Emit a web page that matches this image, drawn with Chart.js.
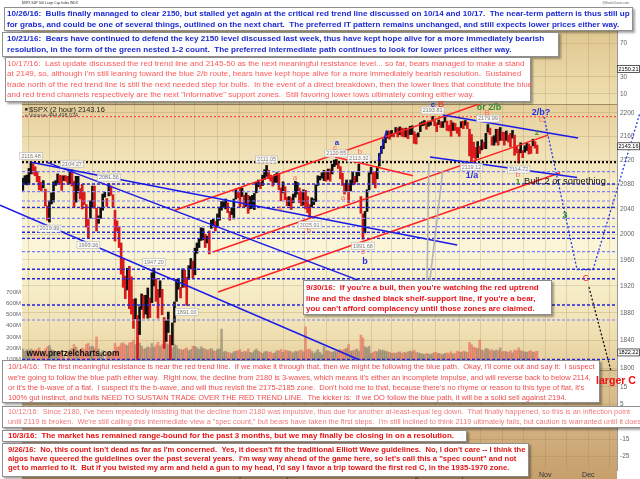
<!DOCTYPE html>
<html>
<head>
<meta charset="utf-8">
<title>SPX 2 hour</title>
<script src="https://cdn.jsdelivr.net/npm/chart.js@4.4.1/dist/chart.umd.min.js"></script>
<style>
  html, body { margin: 0; padding: 0; background: #fff; }
  #chart { display: block; }
</style>
</head>
<body>
<canvas id="chart" width="640" height="479" style="width:640px;height:479px"></canvas>
<script>
// x values are trading days counted from 3 Nov 2015, first bar is 28 Oct 2015
var firstDay = -4;

var highs = [2090,2094,2095,2106,
  2116.5,2114,2109,2101,2093,2083,2086,2072,2045,2053,
  2066,2084,2086,2097,2095,2094,2094,2094,2093,2103,
  2104,2085,2093,2093,2073,2080,2067,2047,2023,2053,
  2077,2077,2041,2029,2042,2064,2067,2057,2081,2077,
  2063,2038,2021,2012,1986,1961,1935,1947,1950,1934,
  1900,1901,1876,1889,1908,1906,1906,1917,1902,1940,
  1947,1931,1915,1928,1915,1873,1868,1881,1847,1865,
  1896,1930,1930,1918,1946,1944,1933,1951,1962,1958,
  1978,1986,1993,2010,2009,2000,1997,2005,2022,2025,
  2020,2032,2043,2052,2053,2056,2050,2036,2042,2056,
  2072,2068,2075,2074,2062,2066,2062,2060,2062,2065,
  2083,2087,2083,2095,2104,2111,2103,2095,2092,2096,
  2099,2097,2074,2084,2076,2059,2060,2058,2064,2085,
  2083,2074,2068,2071,2070,2060,2047,2058,2056,2079,
  2094,2093,2099,2103,2100,2105,2105,2113,2120,2121,
  2118,2109,2098,2081,2087,2079,2087,2101,2093,2100,
  2113,2060,2032,2036,2071,2099,2108,2101,2101,2109,
  2131,2143,2155,2159,2169,2169,2170,2165,2175,2174,
  2176,2174,2173,2174,2171,2177,2178,2168,2164,2166,
  2183,2185,2187,2183,2186,2185,2194,2187,2183,2188,
  2185,2185,2193,2186,2179,2187,2183,2182,2175,2175,
  2185,2186,2187,2184,2172,2163,2150,2141,2151,2143,
  2154,2150,2165,2180,2174,2159,2161,2172,2172,2175,
  2167,2167,2169,2162,2165,2170,2162,2143,2138,2149,
  2136,2144,2148,2147,2143,2155,2151,2145];

var lows = [2070,2080,2079,2080,
  2097,2097,2094,2084,2071,2069,2074,2045,2022,2019,
  2048,2051,2078,2082,2080,2070,2086,2085,2080,2081,
  2077,2042,2051,2066,2056,2040,2047,2011,1993,2025,
  2042,2041,2005,2017,2025,2038,2059,2044,2061,2062,
  2043,1989,2005,1979,1938,1918,1901,1914,1886,1878,
  1857,1871,1812,1848,1885,1872,1878,1872,1873,1895,
  1920,1897,1872,1903,1877,1828,1838,1851,1810,1833,
  1866,1897,1915,1902,1918,1918,1891,1930,1946,1932,
  1937,1970,1979,1990,1991,1979,1986,1969,2009,2011,
  2005,2011,2022,2038,2042,2040,2034,2022,2031,2024,
  2056,2058,2043,2060,2042,2044,2033,2040,2041,2039,
  2066,2076,2073,2078,2088,2093,2089,2085,2077,2083,
  2083,2071,2053,2066,2055,2045,2045,2039,2050,2059,
  2064,2050,2045,2046,2040,2034,2025,2043,2047,2052,
  2078,2087,2090,2086,2085,2088,2085,2097,2109,2112,
  2106,2089,2078,2064,2069,2050,2069,2079,2080,2084,
  2094,2033,1992,2002,2036,2071,2097,2080,2074,2089,
  2110,2131,2139,2149,2157,2155,2160,2159,2165,2159,
  2163,2160,2159,2159,2156,2163,2163,2148,2147,2159,
  2168,2178,2179,2172,2177,2179,2186,2178,2168,2180,
  2175,2175,2184,2170,2169,2160,2170,2170,2165,2160,
  2175,2173,2179,2173,2127,2119,2124,2121,2124,2131,
  2137,2139,2139,2167,2163,2145,2145,2150,2145,2153,
  2153,2145,2153,2150,2142,2157,2128,2132,2115,2132,
  2124,2133,2136,2130,2131,2144,2140,2131];

// volume in millions
var volumes = [190,170,185,175,190,180,175,185,200,170,165,190,210,220,185,175,160,170,165,175,120,90,160,
  180,195,230,205,175,180,200,185,230,240,210,215,200,300,190,160,175,90,150,165,160,150,
  240,205,215,240,245,230,220,245,250,270,230,290,245,215,190,195,210,200,240,
  205,225,250,215,230,265,240,230,315,200,230,220,190,185,180,190,200,175,185,215,
  215,200,185,210,195,190,180,185,195,175,170,185,190,370,165,170,160,155,150,165,170,175,
  185,160,170,165,190,160,155,175,190,170,160,150,165,170,160,165,150,155,175,170,185,
  160,180,175,170,165,155,170,165,175,180,165,390,185,190,170,150,165,185,160,140,210,
  170,175,165,160,170,165,180,185,175,190,195,230,170,175,180,190,170,317,290,210,200,215,
  150,160,170,165,185,175,180,170,165,160,150,155,150,160,165,150,160,155,165,170,
  165,180,160,155,150,145,140,150,145,140,150,160,155,150,145,140,150,155,150,165,145,150,170,
  165,160,170,165,160,250,230,205,200,195,270,180,175,195,190,175,185,170,180,175,200,
  165,170,165,160,175,155,180,175,200,175,170,165,160,170,175,160,165,170];

var monthStarts = [-1, 19, 41, 60, 80, 102, 123, 144, 166, 186, 209, 230, 251, 272];
var monthNames = ['Nov', 'Dec', '2016', 'Feb', 'Mar', 'Apr', 'May', 'Jun', 'Jul', 'Aug', 'Sep', 'Oct', 'Nov', 'Dec'];

var priceTicks = [1800,1820,1840,1860,1880,1900,1920,1940,1960,1980,2000,2020,2040,2060,2080,2100,2120,2140,2160,2180,2200];
var volumeTicks = [100,200,300,400,500,600,700];
var lowerTicks = [15,10,5,0,-5,-10,-15,-20,-25,-30];
var upperTicks = [10,30,70];

var shelfLevel = 2116.48;
var highLevel = 2193.81;
var levelsDark = [2080.5, 2042.6, 2002.9, 1993.3, 1945.4, 1931, 1891.5, 1812.3];
var levelsLight = [2100.7, 2067.9, 2052.8, 2025, 2011.7, 1972.5, 1869.3];

var blueLines = [
  [[0, 2116.5], [208, 1983]],
  [[7.5, 2116.5], [166.4, 1921]],
  [[-15.1, 2046], [161.5, 1810]],
  [[194.7, 2125], [266.5, 2091]],
  [[201, 2196.5], [267, 2157]],
  [[169.5, 2118], [173.5, 2170]]
];
var redLines = [
  [[70.3, 2038], [223, 2221]],
  [[148.4, 2125], [186.4, 2094]],
  [[88.8, 1972], [252.3, 2162]],
  [[91.3, 1911], [258.2, 2099]]
];
var calloutLines = [
  [[193.3, 1929], [194.2, 2115]],
  [[194.7, 1929], [201, 2103.5]]
];
var bluePath = [[250.4, 2193], [266.5, 1945], [274.3, 1945], [297.2, 2200]];
var blackPath = [[272.3, 1918.5], [283.6, 1790]];

// [day, price, text, above/below]
var priceLabels = [
  [0, 2116.5, '2116.48', 'a'], [20, 2104, '2104.27', 'a'], [38, 2081, '2081.56', 'a'],
  [9, 2019, '2019.39', 'b'], [28, 1993, '1993.26', 'b'], [60, 1947, '1947.20', 'a'],
  [76, 1891, '1891.00', 'b'], [52, 1812, '1812.29', 'b'], [68, 1810, '1810.10', 'b'],
  [115, 2111, '2111.05', 'a'], [136, 2025, '2025.91', 'b'], [149, 2121, '2120.55', 'a'],
  [160, 2113, '2113.32', 'a'], [162, 1992, '1991.68', 'b'], [196, 2194, '2193.81', 'a'],
  [215, 2119, '2119.12', 'b'], [223, 2180, '2179.99', 'a'], [238, 2115, '2114.72', 'b']
];

// [day, price, text, style]
var waveLabels = [
  [196.2, 2214, 'c', 'blueS'], [200.1, 2214, 'B', 'red'],
  [223.5, 2209, 'or 2/b', 'green'], [222.5, 2200, 'B', 'salmon'],
  [248.9, 2200, '2/b?', 'blue'], [249.4, 2188, 'C', 'salmon'],
  [247, 2166, '2', 'greenS'], [215.2, 2094, '1/a', 'blue'],
  [237.7, 2095, 'b', 'salmon'], [237.7, 2084, '1', 'greenS'],
  [240.6, 2084, 'Bull: 2 or something', 'black'],
  [260.6, 2030, '3', 'green'], [270.9, 1932, 'C', 'red'],
  [285.5, 1782, 'larger C', 'larger'],
  [149.3, 2149, 'a', 'blueS'], [148.4, 2140, 'c', 'salmon'],
  [160.6, 2133, 'b', 'salmon'], [152.3, 2058, 'a', 'salmon'],
  [162, 1972, 'c', 'salmon'], [163, 1957, 'b', 'blue'],
  [128.8, 2090, 'a', 'salmon'], [121.5, 2041, 'A', 'salmon'],
  [135.7, 2006, 'b', 'salmon']
];

var FONT = '"Liberation Sans", Arial, sans-serif';
var xMin = -4.39, xMax = 286.0;

var waveStyles = {
  blue:   { weight: 'bold', size: 9, color: '#2333e2' },
  blueS:  { weight: 'bold', size: 8, color: '#2333e2' },
  red:    { weight: 'normal', size: 9, color: '#ff2424' },
  salmon: { weight: 'normal', size: 8, color: '#ff6b5b' },
  green:  { weight: 'bold', size: 9, color: '#2e8c2e' },
  greenS: { weight: 'bold', size: 8, color: '#2e8c2e' },
  black:  { weight: 'normal', fit: 82, color: '#111', align: 'left' },
  larger: { weight: 'bold', fit: 40, color: '#f01010' }
};

var boxes = [
  { x: 303, y: 280, w: 249, h: 35, tx: 306, fit: 233, color: '#e8141a', weight: 'bold', ly: [287.3, 298.3, 309],
    lines: ["9/30/16:  If you're a bull, then you're watching the red uptrend",
            "line and the dashed black shelf-support line, if you're a bear,",
            "you can't afford complacency until those zones are claimed."] },
  { x: 2, y: 360, w: 598, h: 43, tx: 8, fit: 588, color: '#f24c4c', weight: 'normal', ly: [367, 377.5, 388, 398],
    lines: ["10/14/16:  The first meaningful resistance is near the red trend line.  If we make it through that, then we might be following the blue path.  Okay, I'll come out and say it:  I suspect",
            "we're going to follow the blue path either way.  Right now, the decline from 2180 is 3-waves, which means it's either an incomplete impulse, and will reverse back to below 2114,",
            "or it's the b-wave of a flat.  I suspect it's the b-wave, and will thus revisit the 2175-2185 zone.  Don't hold me to that, because there's no rhyme or reason to this type of flat, it's",
            "100% gut instinct, and bulls NEED TO SUSTAIN TRADE OVER THE RED TREND LINE.  The kicker is:  If we DO follow the blue path, it will be a solid sell against 2194."] },
  { x: 2, y: 406, w: 660, h: 22, tx: 8, fit: 623, color: '#f07a7a', weight: 'normal', ly: [411.5, 421.5],
    lines: ["10/12/16:  Since 2180, I've been repeatedly insisting that the decline from 2180 was impulsive, thus due for another at-least-equal leg down.  That finally happened, so this is an inflection point",
            "until 2119 is broken.  We're still calling this intermediate view a \"spec count,\" but bears have taken the first steps.  I'm still inclined to think 2119 ultimately fails, but caution is warranted until it does."] },
  { x: 2, y: 430, w: 465, h: 12, tx: 8, fit: 447, color: '#e81010', weight: 'bold', ly: [436],
    lines: ["10/3/16:  The market has remained range-bound for the past 3 months, but we may finally be closing in on a resolution."] },
  { x: 2, y: 443, w: 527, h: 34, tx: 8, fit: 518, color: '#e01414', weight: 'bold', ly: [449.5, 458.5, 467.5],
    lines: ["9/26/16:  No, this count isn't dead as far as I'm concerned.  Yes, it doesn't fit the traditional Elliott Wave guidelines.  No, I don't care -- I think the",
            "algos have queered the guidelines over the past several years.  I'm way way ahead of the game here, so let's call this a \"spec count\" and not",
            "get to married to it.  But if you twisted my arm and held a gun to my head, I'd say I favor a trip toward the first red C, in the 1935-1970 zone."] },
  { x: 4, y: 7, w: 629, h: 24, tx: 7, fit: 623, color: '#1c2bd1', weight: 'bold', ly: [14, 25],
    lines: ["10/26/16:  Bulls finally managed to clear 2150, but stalled yet again at the critical red trend line discussed on 10/14 and 10/17.  The near-term pattern is thus still up",
            "for grabs, and could be one of several things, outlined on the next chart.  The preferred IT pattern remains unchanged, and still expects lower prices either way."] },
  { x: 2, y: 32, w: 557, h: 25, tx: 7, fit: 538, color: '#1c2bd1', weight: 'bold', ly: [39, 50],
    lines: ["10/21/16:  Bears have continued to defend the key 2150 level discussed last week, thus have kept hope alive for a more immediately bearish",
            "resolution, in the form of the green nested 1-2 count.  The preferred intermediate path continues to look for lower prices either way."] },
  { x: 5, y: 57, w: 526, h: 45, tx: 7, fit: 519, color: '#ff5858', weight: 'normal', ly: [63.5, 74, 84.5, 95],
    lines: ["10/17/16:  Last update discussed the red trend line and 2145-50 as the next meaningful resistance level... so far, bears managed to make a stand",
            "at 2149, so, although I'm still leaning toward the blue 2/b route, bears have kept hope alive for a more immediately bearish resolution.  Sustained",
            "trade north of the red trend line is still the next needed step for bulls.  In the event of a direct breakdown, then the lower lines that constitute the blue",
            "and red trend channels respectively are the next \"informative\" support zones.  Still favoring lower lows ultimately coming either way."] }
];

function pts(pairs) {
  return pairs.map(function (p) { return { x: p[0], y: p[1] }; });
}

function lineSet(points, color, width, dash, order, noClip) {
  var ds = {
    type: 'line', data: points, borderColor: color, borderWidth: width,
    borderDash: dash || [], pointRadius: 0, fill: false, tension: 0,
    xAxisID: 'x', yAxisID: 'y', order: order
  };
  if (noClip) ds.clip = false;
  return ds;
}

var priceData = highs.map(function (h, i) { return { x: firstDay + i, y: [lows[i], h] }; });
var priceColors = highs.map(function (h, i) {
  if (i === 0) return '#111';
  var m = (h + lows[i]) / 2, pm = (highs[i - 1] + lows[i - 1]) / 2;
  return m < pm ? '#d91a1a' : '#111';
});
var volData = volumes.map(function (v, i) { return { x: firstDay + i, y: v }; });
var volColors = priceColors.map(function (c) {
  return c === '#111' ? 'rgba(115,105,92,0.5)' : 'rgba(228,92,80,0.55)';
});

var gridDays = monthStarts.slice();
for (var i = 0; i < monthStarts.length - 1; i++) gridDays.push((monthStarts[i] + monthStarts[i + 1]) / 2);
gridDays.push(monthStarts[monthStarts.length - 1] + 10.5);
gridDays.sort(function (a, b) { return a - b; });

var datasets = [];
datasets.push({ type: 'bar', data: volData, xAxisID: 'x', yAxisID: 'yv', backgroundColor: volColors,
  barThickness: 2, grouped: false, borderWidth: 0, order: 10 });
datasets.push({ type: 'bar', data: priceData, xAxisID: 'x', yAxisID: 'y', backgroundColor: priceColors,
  barThickness: 2, grouped: false, borderWidth: 0, order: 9 });
levelsLight.forEach(function (p) {
  datasets.push(lineSet([{ x: xMin, y: p }, { x: xMax, y: p }], '#7c7cff', 1.2, [3, 2], 8));
});
levelsDark.forEach(function (p) {
  datasets.push(lineSet([{ x: xMin, y: p }, { x: xMax, y: p }], '#2424dc', 1.4, [3, 2], 8));
});
datasets.push(lineSet([{ x: xMin, y: shelfLevel }, { x: xMax, y: shelfLevel }], '#111', 2.4, [2, 2], 8));
datasets.push(lineSet([{ x: xMin, y: highLevel }, { x: xMax, y: highLevel }], '#ff4a4a', 1.2, [2, 2], 8));
blueLines.forEach(function (l, k) {
  datasets.push(lineSet(pts(l), '#1b1be8', 1.5, [], 7, k === 2));
});
redLines.forEach(function (l) {
  datasets.push(lineSet(pts(l), '#ff2222', 1.5, [], 7));
});
calloutLines.forEach(function (l) {
  datasets.push(lineSet(pts(l), '#b4b4b4', 1.6, [], 6));
});
datasets.push(lineSet(pts(bluePath), '#2a3ae8', 1.3, [2, 2], 5, true));
datasets.push(lineSet(pts(blackPath), '#111', 1.3, [2, 2], 5));

function setTicks(list) {
  return function (scale) { scale.ticks = list.map(function (v) { return { value: v }; }); };
}
function fixWidth(w) { return function (scale) { scale.width = w; }; }

var tickFont = { family: FONT, size: 6.5 };
var gridColor = 'rgba(150,120,70,0.22)';

var bgPlugin = {
  id: 'bg',
  beforeDraw: function (chart) {
    var c = chart.ctx, a = chart.chartArea;
    var t = chart.scales.yt, p = chart.scales.y, b = chart.scales.yb;
    c.save();
    c.fillStyle = '#fff';
    c.fillRect(0, 0, chart.width, chart.height);
    function band(top, bottom, stops) {
      var g = c.createLinearGradient(0, top, 0, bottom);
      stops.forEach(function (s) { g.addColorStop(s[0], s[1]); });
      c.fillStyle = g;
      c.fillRect(a.left, top, a.right - a.left, bottom - top);
    }
    band(t.top, t.bottom, [[0, '#dbbf88'], [1, '#efe0b0']]);
    band(p.top, p.bottom, [[0, '#e6cf9c'], [0.3, '#f6ecc6'], [0.55, '#fbf6d8'], [0.85, '#f0e1b4'], [1, '#e3cc9a']]);
    band(b.top, chart.height, [[0, '#dfc596'], [1, '#c69f6c']]);
    c.strokeStyle = '#a08c64';
    c.lineWidth = 1;
    [t.bottom, p.bottom].forEach(function (y) {
      c.beginPath(); c.moveTo(a.left, y + 0.5); c.lineTo(a.right, y + 0.5); c.stroke();
    });
    c.restore();
  }
};

function fitSize(c, text, weight, width) {
  c.font = weight + ' 10px ' + FONT;
  return 10 * width / c.measureText(text).width;
}

function tagBox(c, x, y, text) {
  c.font = '6px ' + FONT;
  c.fillStyle = '#fff';
  c.fillRect(x, y - 4, 23, 8);
  c.strokeStyle = '#333';
  c.lineWidth = 0.8;
  c.strokeRect(x + 0.5, y - 3.5, 22, 7);
  c.fillStyle = '#000';
  c.textAlign = 'left';
  c.textBaseline = 'middle';
  c.fillText(text, x + 1.5, y + 0.3, 20);
}

var notePlugin = {
  id: 'notes',
  afterDatasetsDraw: function (chart) {
    var c = chart.ctx, sx = chart.scales.x, sy = chart.scales.y;
    c.save();
    priceLabels.forEach(function (l) {
      var x = sx.getPixelForValue(l[0]);
      var y = sy.getPixelForValue(l[1]) + (l[3] === 'a' ? -6 : 6.5);
      c.font = '5.5px ' + FONT;
      var w = c.measureText(l[2]).width + 3;
      c.fillStyle = 'rgba(255,255,255,0.88)';
      c.fillRect(x - w / 2, y - 3.5, w, 7);
      c.strokeStyle = '#b4b4b4';
      c.lineWidth = 0.6;
      c.strokeRect(x - w / 2, y - 3.5, w, 7);
      c.fillStyle = '#7a7a7a';
      c.textAlign = 'center';
      c.textBaseline = 'middle';
      c.fillText(l[2], x, y + 0.3);
    });
    // legend of the price panel
    c.textAlign = 'left';
    c.textBaseline = 'middle';
    var top = sy.top;
    c.fillStyle = '#222';
    c.fillRect(25, top + 4, 2.5, 2.5);
    c.font = fitSize(c, '$SPX (2 hour) 2143.16', 'normal', 76) + 'px ' + FONT;
    c.fillText('$SPX (2 hour) 2143.16', 29, top + 5.5);
    c.fillStyle = '#8a8070';
    c.fillRect(25, top + 10.5, 2.5, 2.5);
    c.fillStyle = '#444';
    c.font = fitSize(c, 'Volume 444,498,024', 'normal', 49) + 'px ' + FONT;
    c.fillText('Volume 444,498,024', 29, top + 12);
    c.fillStyle = '#111';
    c.font = 'bold ' + fitSize(c, 'www.pretzelcharts.com', 'bold', 93) + 'px ' + FONT;
    c.fillText('www.pretzelcharts.com', 26.5, 354);
    c.restore();
  },
  afterDraw: function (chart) {
    var c = chart.ctx, sx = chart.scales.x, sy = chart.scales.y, a = chart.chartArea;
    c.save();
    // header
    c.textBaseline = 'middle';
    c.textAlign = 'left';
    c.fillStyle = '#333';
    c.font = fitSize(c, '$SPX S&P 500 Large Cap Index INDX', 'normal', 56) + 'px ' + FONT;
    c.fillText('$SPX S&P 500 Large Cap Index INDX', 22, 3);
    c.textAlign = 'right';
    c.fillStyle = '#666';
    c.font = fitSize(c, '@StockCharts.com', 'normal', 27) + 'px ' + FONT;
    c.fillText('@StockCharts.com', 629, 3.5);

    // value tags on the right axes
    tagBox(c, a.right, sy.getPixelForValue(2143.16), '2143.16');
    tagBox(c, a.right, sy.getPixelForValue(1822.22), '1822.22');
    tagBox(c, a.right, chart.scales.yt.getPixelForValue(39.4), '2150.21');

    // comment boxes
    boxes.forEach(function (b) {
      c.save();
      c.shadowColor = 'rgba(0,0,0,0.35)';
      c.shadowOffsetX = 2;
      c.shadowOffsetY = 2;
      c.shadowBlur = 2;
      c.fillStyle = '#fff';
      c.fillRect(b.x, b.y, b.w, b.h);
      c.restore();
      c.strokeStyle = '#8e8e8e';
      c.lineWidth = 1;
      c.strokeRect(b.x + 0.5, b.y + 0.5, b.w - 1, b.h - 1);
      var size = fitSize(c, b.lines[0], b.weight, b.fit);
      c.font = b.weight + ' ' + size + 'px ' + FONT;
      c.fillStyle = b.color;
      c.textAlign = 'left';
      c.textBaseline = 'middle';
      b.lines.forEach(function (line, k) { c.fillText(line, b.tx, b.ly[k]); });
    });

    // wave labels
    waveLabels.forEach(function (l) {
      var st = waveStyles[l[3]];
      var x = sx.getPixelForValue(l[0]);
      var y = sy.getPixelForValue(l[1]);
      var size = st.fit ? fitSize(c, l[2], st.weight, st.fit) : st.size;
      c.font = st.weight + ' ' + size + 'px ' + FONT;
      c.fillStyle = st.color;
      c.textAlign = st.align || 'center';
      c.textBaseline = 'middle';
      c.fillText(l[2], x, y);
    });
    c.restore();
  }
};

new Chart(document.getElementById('chart'), {
  type: 'bar',
  data: { datasets: datasets },
  options: {
    responsive: false,
    animation: false,
    devicePixelRatio: 1,
    events: [],
    layout: { padding: { top: 8, left: 0, right: 0, bottom: 0 } },
    plugins: { legend: { display: false }, tooltip: { enabled: false } },
    scales: {
      x: {
        type: 'linear', position: 'bottom', min: xMin, max: xMax, offset: false,
        afterBuildTicks: setTicks(gridDays),
        afterFit: function (s) { s.height = 9; },
        grid: { color: gridColor, drawTicks: false, offset: false },
        border: { display: false },
        ticks: {
          autoSkip: false, maxRotation: 0, padding: 1, color: '#333',
          font: { family: FONT, size: 7 },
          callback: function (v) { var k = monthStarts.indexOf(v); return k < 0 ? '' : monthNames[k]; }
        }
      },
      yt: {
        type: 'linear', position: 'right', stack: 'right', stackWeight: 96, min: -1.8, max: 111.2,
        afterBuildTicks: setTicks(upperTicks), afterFit: fixWidth(23),
        grid: { color: gridColor, drawTicks: false },
        border: { color: '#999' },
        ticks: { padding: 3, color: '#666', font: tickFont }
      },
      y: {
        type: 'logarithmic', position: 'right', stack: 'right', stackWeight: 266, min: 1797.2, max: 2215.6,
        afterBuildTicks: setTicks(priceTicks), afterFit: fixWidth(23),
        grid: { color: gridColor, drawTicks: false },
        border: { color: '#999' },
        ticks: { padding: 3, color: '#666', font: tickFont, callback: function (v) { return String(v); } }
      },
      yb: {
        type: 'linear', position: 'right', stack: 'right', stackWeight: 100, min: -32.8, max: 24.7,
        afterBuildTicks: setTicks(lowerTicks), afterFit: fixWidth(23),
        grid: { color: gridColor, drawTicks: false },
        border: { color: '#999' },
        ticks: { padding: 3, color: '#666', font: tickFont }
      },
      yv: {
        type: 'linear', position: 'left', min: -905, max: 3276,
        afterBuildTicks: setTicks(volumeTicks), afterFit: fixWidth(22),
        grid: { display: false, drawTicks: false },
        border: { display: false },
        ticks: { padding: 1, color: '#666', font: { family: FONT, size: 6 }, callback: function (v) { return v + 'M'; } }
      }
    }
  },
  plugins: [bgPlugin, notePlugin]
});
</script>
</body>
</html>
